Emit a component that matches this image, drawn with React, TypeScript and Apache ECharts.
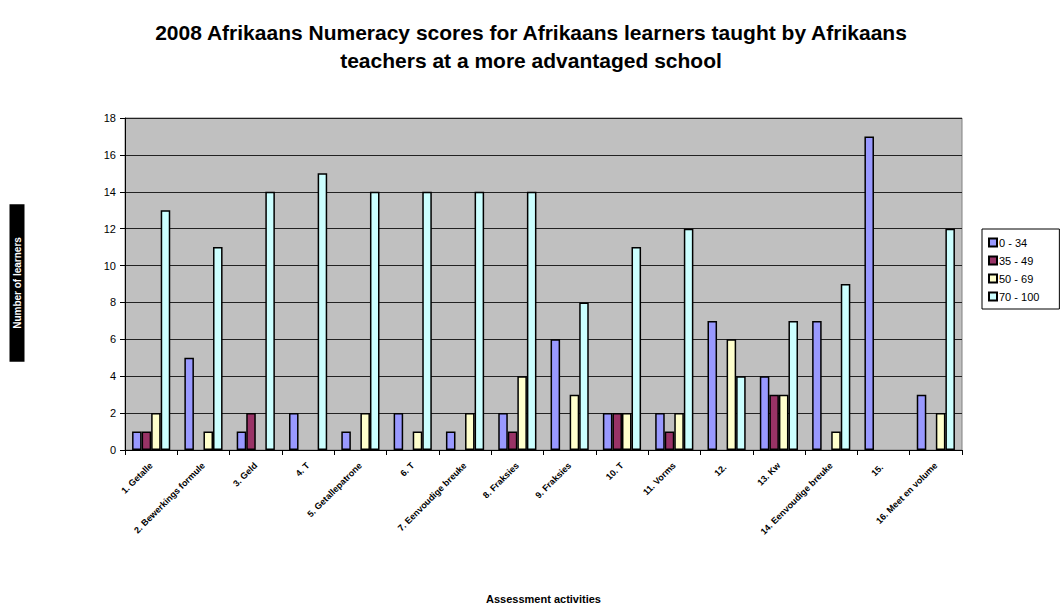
import React, { useEffect, useRef } from "react";
import * as echarts from "echarts";

const categories = [
  "1. Getalle",
  "2. Bewerkings formule",
  "3. Geld",
  "4. T",
  "5. Getallepatrone",
  "6. T",
  "7. Eenvoudige breuke",
  "8. Fraksies",
  "9. Fraksies",
  "10. T",
  "11. Vorms",
  "12. ",
  "13. Kw",
  "14. Eenvoudige breuke",
  "15. ",
  "16. Meet en volume",
];

const seriesNames = ["0 - 34", "35 - 49", "50 - 69", "70 - 100"];
const s0_34 = [1, 5, 1, 2, 1, 2, 1, 2, 6, 2, 2, 7, 4, 7, 17, 3];
const s35_49 = [1, 0, 2, 0, 0, 0, 0, 1, 0, 2, 1, 0, 3, 0, 0, 0];
const s50_69 = [2, 1, 0, 0, 2, 1, 2, 4, 3, 2, 2, 6, 3, 1, 0, 2];
const s70_100 = [13, 11, 14, 15, 14, 14, 14, 14, 8, 11, 12, 4, 7, 9, 0, 12];
const colors = ["#9999FF", "#993366", "#FFFFCC", "#CCFFFF"];
const yTicks = { min: 0, max: 18, interval: 2 };

export default function App() {
  const ref = useRef<HTMLDivElement>(null);
  useEffect(() => {
    document.body.style.margin = "0";
    const chart = echarts.init(ref.current!, null, { renderer: "svg" });
    const all = [s0_34, s35_49, s50_69, s70_100];
    chart.setOption({
      animation: false,
      backgroundColor: "#ffffff",
      textStyle: { fontFamily: "Arial, 'Liberation Sans', sans-serif" },
      title: {
        text: "2008 Afrikaans Numeracy scores for Afrikaans learners taught by Afrikaans\nteachers at a more advantaged school",
        left: "center",
        top: 13,
        textStyle: {
          fontSize: 21,
          fontWeight: "bold",
          color: "#000",
          lineHeight: 28,
          fontFamily: "Arial, 'Liberation Sans', sans-serif",
        },
      },
      legend: {
        orient: "vertical",
        left: 982,
        top: 229,
        itemWidth: 8,
        itemHeight: 8,
        itemGap: 7,
        padding: [8, 20, 7, 6],
        borderColor: "#000",
        borderWidth: 1,
        icon: "rect",
        textStyle: { fontSize: 11, color: "#000", padding: [0, 0, 0, -3] },
        data: seriesNames,
      },
      grid: {
        left: 125,
        right: 100,
        top: 118,
        bottom: 156,
        show: true,
        outerBoundsMode: "none",
        containLabel: false,
        backgroundColor: "#C0C0C0",
        borderColor: "#808080",
        borderWidth: 1,
      },
      xAxis: {
        type: "category",
        data: categories,
        name: "Assessment activities",
        nameLocation: "middle",
        nameGap: 143,
        nameTextStyle: { fontSize: 11, fontWeight: "bold", color: "#000" },
        axisLine: { lineStyle: { color: "#000", width: 1 } },
        axisTick: { show: true, length: 5, lineStyle: { color: "#000" } },
        axisLabel: {
          rotate: 45,
          fontSize: 9,
          fontWeight: "bold",
          color: "#000",
          margin: 14,
          interval: 0,
        },
      },
      yAxis: {
        type: "value",
        min: yTicks.min,
        max: yTicks.max,
        interval: yTicks.interval,
        axisLine: { show: true, lineStyle: { color: "#000", width: 1 } },
        axisTick: { show: true, length: 5, lineStyle: { color: "#000" } },
        axisLabel: { fontSize: 11, color: "#000", margin: 9 },
        splitLine: { show: true, lineStyle: { color: "#222", width: 1 } },
      },
      graphic: [
        {
          type: "text",
          x: 17,
          y: 283,
          rotation: Math.PI / 2,
          style: {
            text: "Number of learners",
            fill: "#fff",
            backgroundColor: "#000",
            font: "bold 10px Arial, 'Liberation Sans', sans-serif",
            align: "center",
            verticalAlign: "middle",
            padding: [3, 33, 2, 33],
          },
        },
      ],
      series: all.map((vals, i) => ({
        name: seriesNames[i],
        type: "bar",
        data: vals.map((v) => (v === 0 ? null : v)),
        barGap: "0%",
        barCategoryGap: "27%",
        itemStyle: {
          color: colors[i],
          borderColor: "#000",
          borderWidth: 1.5,
        },
      })),
    });
    return () => chart.dispose();
  }, []);
  return <div ref={ref} style={{ width: 1062, height: 606 }} />;
}
